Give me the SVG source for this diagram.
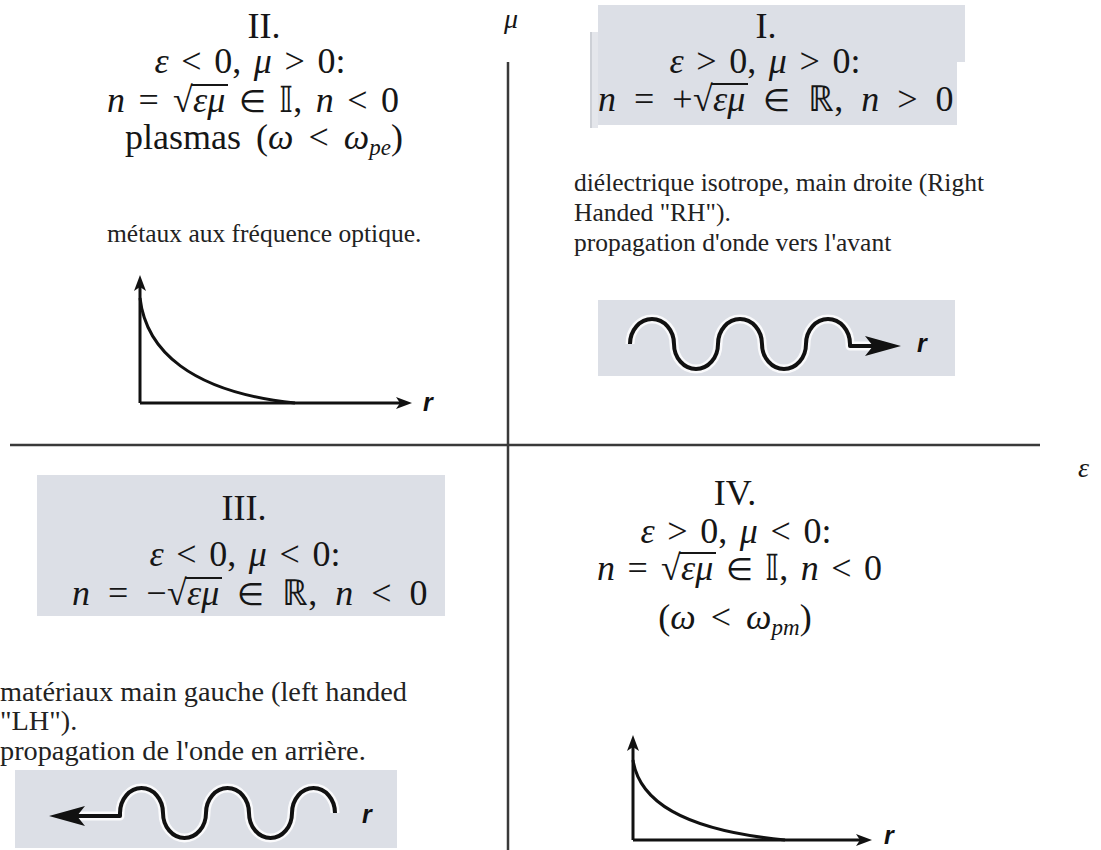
<svg xmlns="http://www.w3.org/2000/svg" width="1101" height="850" viewBox="0 0 1101 850">
<defs>
<style>
text{font-family:"Liberation Serif","Times New Roman",serif;fill:#161616}
.m{font-size:36px}
.b{font-size:25.5px;fill:#222}
.b3{font-size:28.3px;fill:#222}
.i{font-style:italic}
.el{font-size:31px}
.r{font-family:"Liberation Sans",Arial,sans-serif;font-style:italic;font-size:25px;font-weight:bold;fill:#111}
.box{fill:#dcdfe6}
.ax{stroke:#3a3a3a;stroke-width:2.5;fill:none}
.g{stroke:#111;stroke-width:3;fill:none}
.halo{stroke:#fff;stroke-width:9;fill:none;stroke-linejoin:round;opacity:.85}
.w{stroke:#111;stroke-width:4;fill:none;stroke-linejoin:round}
.vin{stroke:#161616;stroke-width:2}
</style>
<marker id="ga" markerUnits="userSpaceOnUse" markerWidth="16" markerHeight="12" refX="10" refY="6" orient="auto"><path d="M0,0 L16,6 L0,12 L4,6 Z" fill="#111"/></marker>
<marker id="wa" markerUnits="userSpaceOnUse" markerWidth="36" markerHeight="20" refX="13" refY="10" orient="auto"><path d="M0,0 L36,10 L0,20 L8,10 Z" fill="#111"/></marker>
<path id="wave1" d="M630,344 A22,25 0 0 1 674,344 A22,25 0 0 0 718,344 A22,25 0 0 1 762,344 A22,25 0 0 0 806,344 A22,25 0 0 1 850,344 V346 H878"/>
<path id="wave3" d="M335,813 A21.5,25 0 0 0 292,813 A21.5,25 0 0 1 249,813 A21.5,25 0 0 0 206,813 A21.5,25 0 0 1 163,813 A21.5,25 0 0 0 120,813 V816 H72"/>
</defs>
<rect width="1101" height="850" fill="#fff"/>

<g id="connectors">
<line class="ax" x1="10" y1="445" x2="1040" y2="445"/>
<line class="ax" x1="508" y1="62" x2="508" y2="850"/>
</g>
<g id="axis-labels">
<text class="i" x="504" y="28" font-size="28">μ</text>
<text class="i" x="1078" y="477" font-size="28">ε</text>
</g>

<g id="q2">
<text class="m" x="264" y="38" text-anchor="middle">II.</text>
<text class="m" x="250" y="73" text-anchor="middle" word-spacing="3.6"><tspan class="i">ε</tspan> &lt; 0, <tspan class="i">μ</tspan> &gt; 0:</text>
<text class="m" x="107" y="112" word-spacing="4.5"><tspan class="i">n</tspan> = <tspan x="173">&#x221A;</tspan><tspan x="193" class="i">εμ</tspan> <tspan class="el">&#x2208;</tspan> &#x1D540;, <tspan class="i">n</tspan> &lt; 0</text>
<line class="vin" x1="191" y1="85" x2="228" y2="85"/>
<text class="m" x="264" y="149" text-anchor="middle" word-spacing="6">plasmas (<tspan class="i">ω</tspan> &lt; <tspan class="i">ω</tspan><tspan class="i" font-size="23" dy="6">pe</tspan><tspan dy="-6">)</tspan></text>
<text class="b" x="107" y="242">métaux aux fréquence optique.</text>
<path class="g" d="M140,403 V281" marker-end="url(#ga)"/>
<path class="g" d="M140,403 H406" marker-end="url(#ga)"/>
<path class="g" d="M140,298 C146,350 190,392 295,403"/>
<text class="r" x="423" y="411">r</text>
</g>

<g id="q1">
<rect x="590" y="32" width="8" height="96" fill="#e4e6eb"/>
<line x1="591" y1="32" x2="591" y2="128" stroke="#cdd0d6" stroke-width="2"/>
<path class="box" d="M598,5 H965 V62 H957 V125 H598 Z"/>
<text class="m" x="766" y="38" text-anchor="middle">I.</text>
<text class="m" x="765" y="73" text-anchor="middle" word-spacing="3.6"><tspan class="i">ε</tspan> &gt; 0, <tspan class="i">μ</tspan> &gt; 0:</text>
<text class="m" x="598" y="111" word-spacing="9"><tspan class="i">n</tspan> = +<tspan x="693">&#x221A;</tspan><tspan x="713" class="i">εμ</tspan> <tspan class="el">&#x2208;</tspan> &#x211D;, <tspan class="i">n</tspan> &gt; 0</text>
<line class="vin" x1="711" y1="84" x2="748" y2="84"/>
<text class="b" x="574" y="191">diélectrique isotrope, main droite (Right</text>
<text class="b" x="574" y="221">Handed "RH").</text>
<text class="b" x="574" y="251">propagation d'onde vers l'avant</text>
<rect class="box" x="598" y="300" width="357" height="76"/>
<use href="#wave1" class="halo"/>
<use href="#wave1" class="w" marker-end="url(#wa)"/>
<text class="r" x="917" y="352">r</text>
</g>

<g id="q3">
<rect class="box" x="37" y="475" width="408" height="141"/>
<text class="m" x="244" y="520" text-anchor="middle">III.</text>
<text class="m" x="245" y="566" text-anchor="middle" word-spacing="3.6"><tspan class="i">ε</tspan> &lt; 0, <tspan class="i">μ</tspan> &lt; 0:</text>
<text class="m" x="72" y="605" word-spacing="9"><tspan class="i">n</tspan> = &#x2212;<tspan x="167">&#x221A;</tspan><tspan x="187" class="i">εμ</tspan> <tspan class="el">&#x2208;</tspan> &#x211D;, <tspan class="i">n</tspan> &lt; 0</text>
<line class="vin" x1="185" y1="578" x2="222" y2="578"/>
<text class="b3" x="0" y="701">matériaux main gauche (left handed</text>
<text class="b3" x="0" y="730">"LH").</text>
<text class="b3" x="0" y="760">propagation de l'onde en arrière.</text>
<rect class="box" x="15" y="770" width="382" height="78"/>
<use href="#wave3" class="halo"/>
<use href="#wave3" class="w" marker-end="url(#wa)"/>
<text class="r" x="362" y="823">r</text>
</g>

<g id="q4">
<text class="m" x="735" y="505" text-anchor="middle">IV.</text>
<text class="m" x="736" y="543" text-anchor="middle" word-spacing="3.6"><tspan class="i">ε</tspan> &gt; 0, <tspan class="i">μ</tspan> &lt; 0:</text>
<text class="m" x="597" y="580" word-spacing="3.5"><tspan class="i">n</tspan> = <tspan x="661">&#x221A;</tspan><tspan x="681" class="i">εμ</tspan> <tspan class="el">&#x2208;</tspan> &#x1D540;, <tspan class="i">n</tspan> &lt; 0</text>
<line class="vin" x1="679" y1="553" x2="716" y2="553"/>
<text class="m" x="735" y="629" text-anchor="middle" word-spacing="6">(<tspan class="i">ω</tspan> &lt; <tspan class="i">ω</tspan><tspan class="i" font-size="23" dy="6">pm</tspan><tspan dy="-6">)</tspan></text>
<path class="g" d="M633,840 V741" marker-end="url(#ga)"/>
<path class="g" d="M633,840 H866" marker-end="url(#ga)"/>
<path class="g" d="M633,760 C639,800 680,830 785,840"/>
<text class="r" x="884" y="844">r</text>
</g>
</svg>
